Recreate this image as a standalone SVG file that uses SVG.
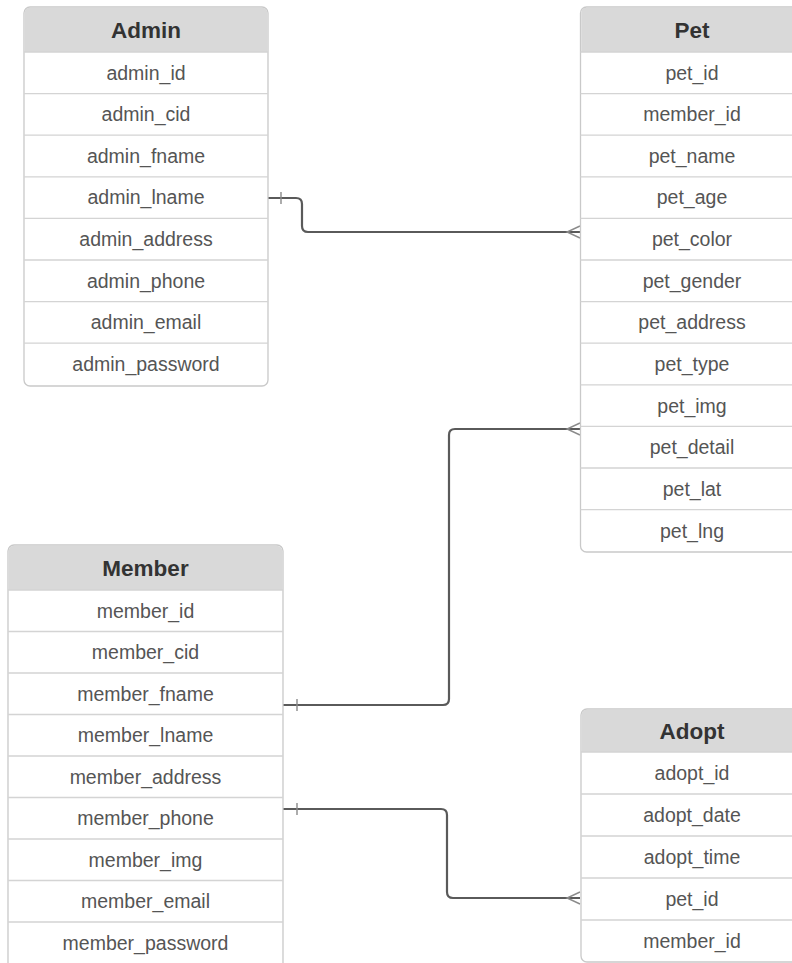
<svg xmlns="http://www.w3.org/2000/svg" width="792" height="963" viewBox="0 0 792 963">
<style>
.box{fill:#ffffff;stroke:#c9c9c9;stroke-width:1.3}
.hdr{fill:#d9d9d9}
.sep{stroke:#d4d4d4;stroke-width:1.3}
.ht{font-family:"Liberation Sans",Arial,sans-serif;font-size:22.5px;font-weight:bold;fill:#333333;text-anchor:middle}
.ft{font-family:"Liberation Sans",Arial,sans-serif;font-size:19.5px;fill:#555555;text-anchor:middle}
.conn{fill:none;stroke:#5a5a5a;stroke-width:2.2}
.mark{fill:none;stroke:#8a8a8a;stroke-width:1.4}
</style>
<rect width="792" height="963" fill="#ffffff"/>

<g id="connectors">
  <path class="conn" d="M268,198 H296 Q302,198 302,204 V226 Q302,232 308,232 H580"/>
  <path class="mark" d="M281,192 V204 M580,226 L567,232 L580,238"/>
  <path class="conn" d="M283,705 H443 Q449,705 449,699 V435 Q449,429 455,429 H580"/>
  <path class="mark" d="M297,699 V711 M580,423 L567,429 L580,435"/>
  <path class="conn" d="M283,809 H441 Q447,809 447,815 V892 Q447,898 453,898 H580"/>
  <path class="mark" d="M297,803 V815 M580,892 L567,898 L580,904"/>
</g>

<g id="admin">
  <rect class="box" x="24" y="7" width="244" height="379" rx="6"/>
  <path class="hdr" d="M30,7.7 H262 Q267.3,7.7 267.3,13 V52 H24.7 V13 Q24.7,7.7 30,7.7 Z"/>
  <path class="sep" d="M24,52 H268 M24,93.6 H268 M24,135.2 H268 M24,176.8 H268 M24,218.4 H268 M24,260 H268 M24,301.6 H268 M24,343.2 H268"/>
  <text class="ht" x="146" y="38">Admin</text>
  <text class="ft" x="146" y="79.5">admin_id</text>
  <text class="ft" x="146" y="121">admin_cid</text>
  <text class="ft" x="146" y="162.5">admin_fname</text>
  <text class="ft" x="146" y="204">admin_lname</text>
  <text class="ft" x="146" y="246">admin_address</text>
  <text class="ft" x="146" y="287.5">admin_phone</text>
  <text class="ft" x="146" y="329">admin_email</text>
  <text class="ft" x="146" y="371">admin_password</text>
</g>

<g id="pet">
  <rect class="box" x="580.5" y="7" width="224" height="545" rx="6"/>
  <path class="hdr" d="M586.5,7.7 H804 V52 H581.2 V13 Q581.2,7.7 586.5,7.7 Z"/>
  <path class="sep" d="M580.5,52 H804 M580.5,93.6 H804 M580.5,135.2 H804 M580.5,176.8 H804 M580.5,218.4 H804 M580.5,260 H804 M580.5,301.6 H804 M580.5,343.2 H804 M580.5,384.8 H804 M580.5,426.4 H804 M580.5,468 H804 M580.5,509.6 H804"/>
  <text class="ht" x="692" y="38">Pet</text>
  <text class="ft" x="692" y="79.5">pet_id</text>
  <text class="ft" x="692" y="121">member_id</text>
  <text class="ft" x="692" y="162.5">pet_name</text>
  <text class="ft" x="692" y="204">pet_age</text>
  <text class="ft" x="692" y="246">pet_color</text>
  <text class="ft" x="692" y="287.5">pet_gender</text>
  <text class="ft" x="692" y="329">pet_address</text>
  <text class="ft" x="692" y="371">pet_type</text>
  <text class="ft" x="692" y="412.5">pet_img</text>
  <text class="ft" x="692" y="454">pet_detail</text>
  <text class="ft" x="692" y="496">pet_lat</text>
  <text class="ft" x="692" y="537.5">pet_lng</text>
</g>

<g id="member">
  <rect class="box" x="8" y="545" width="275" height="430" rx="6"/>
  <path class="hdr" d="M14,545.7 H276.3 Q282.3,545.7 282.3,551.7 V590 H8.7 V551.7 Q8.7,545.7 14,545.7 Z"/>
  <path class="sep" d="M8,590 H283 M8,631.5 H283 M8,673 H283 M8,714.5 H283 M8,756 H283 M8,797.5 H283 M8,839 H283 M8,880.5 H283 M8,922 H283"/>
  <text class="ht" x="145.5" y="576">Member</text>
  <text class="ft" x="145.5" y="617.5">member_id</text>
  <text class="ft" x="145.5" y="659">member_cid</text>
  <text class="ft" x="145.5" y="700.5">member_fname</text>
  <text class="ft" x="145.5" y="742">member_lname</text>
  <text class="ft" x="145.5" y="783.5">member_address</text>
  <text class="ft" x="145.5" y="825">member_phone</text>
  <text class="ft" x="145.5" y="866.5">member_img</text>
  <text class="ft" x="145.5" y="908">member_email</text>
  <text class="ft" x="145.5" y="949.5">member_password</text>
</g>

<g id="adopt">
  <rect class="box" x="581" y="709" width="224" height="253" rx="6"/>
  <path class="hdr" d="M587,709.7 H804 V752 H581.7 V715 Q581.7,709.7 587,709.7 Z"/>
  <path class="sep" d="M581,752 H805 M581,794 H805 M581,836 H805 M581,878 H805 M581,920 H805"/>
  <text class="ht" x="692" y="739">Adopt</text>
  <text class="ft" x="692" y="780">adopt_id</text>
  <text class="ft" x="692" y="822">adopt_date</text>
  <text class="ft" x="692" y="864">adopt_time</text>
  <text class="ft" x="692" y="906">pet_id</text>
  <text class="ft" x="692" y="947.5">member_id</text>
</g>
</svg>
